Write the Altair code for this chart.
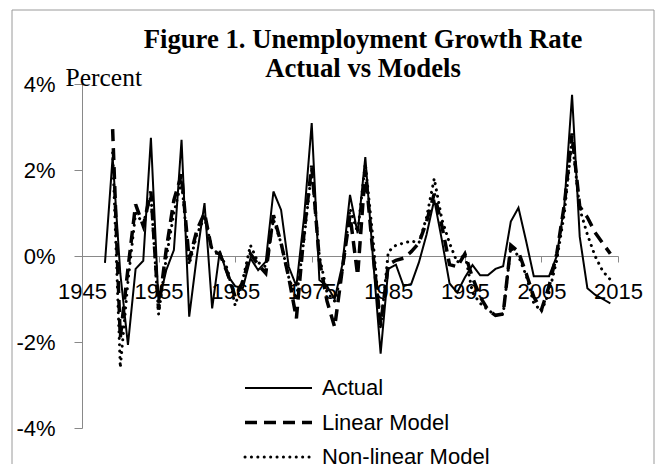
import altair as alt
import pandas as pd

# ---------------- data ----------------
years_actual = list(range(1948, 2015))
actual = [
    -0.16, 2.30, -0.40, -2.07, -0.30, -0.11, 2.75, -1.10, -0.33, 0.14,
    2.70, -1.41, 0.00, 1.23, -1.22, 0.12, -0.45, -0.70, -0.75, -0.05,
    -0.33, -0.13, 1.50, 1.07, -0.25, -0.70, 0.90, 3.09, -0.56, -0.70,
    -1.00, -0.20, 1.42, 0.53, 2.30, -0.05, -2.27, -0.30, -0.20, -0.70,
    -0.65, -0.15, 0.50, 1.31, 0.37, -0.64, -0.85, -0.50, -0.21, -0.45,
    -0.45, -0.30, -0.24, 0.80, 1.12, 0.35, -0.47, -0.47, -0.47, 0.00,
    1.20, 3.75, 0.45, -0.75, -0.90, -1.00, -1.10,
]
years_model = list(range(1949, 2015))
linear = [
    2.95, -1.90, -0.30, 1.20, 0.70, 1.50, -1.25, 0.15, 1.30, 1.90,
    -0.10, 0.60, 1.00, 0.10, 0.05, -0.40, -0.95, -0.60, 0.05, -0.20,
    -0.40, 0.95, 0.30, -0.50, -1.45, 0.55, 2.10, -0.10, -1.05, -1.65,
    -0.30, 0.95, -0.45, 2.00, 0.05, -1.60, -0.20, -0.10, -0.05, 0.10,
    0.30, 0.80, 1.45, 0.70, -0.20, -0.25, 0.05, -0.50, -0.95, -1.25,
    -1.38, -1.35, 0.25, 0.10, -0.40, -0.95, -1.25, -0.70, 0.05, 1.20,
    2.85, 1.15, 0.90, 0.55, 0.30, 0.05,
]
nonlinear = [
    2.40, -2.60, -0.60, 1.00, 0.75, 1.40, -1.35, -0.05, 1.00, 1.75,
    -0.20, 0.50, 0.90, 0.15, 0.05, -0.30, -1.15, -0.55, 0.25, -0.15,
    -0.25, 0.85, 0.30, -0.50, -1.00, 0.40, 2.00, 0.00, -0.85, -1.05,
    -0.35, 1.10, 0.55, 2.15, 0.40, -1.70, 0.10, 0.25, 0.30, 0.35,
    0.30, 0.90, 1.80, 0.85, 0.30, -0.15, 0.05, -0.85, -1.10, -1.25,
    -1.38, -1.35, 0.20, 0.00, -0.45, -1.10, -1.28, -0.85, -0.10, 1.00,
    2.70, 1.10, 0.50, 0.00, -0.35, -0.55,
]
series_names = ["Actual", "Linear Model", "Non-linear Model"]
x_ticks = [1945, 1955, 1965, 1975, 1985, 1995, 2005, 2015]
y_ticks = [-4, -2, 0, 2, 4]
title_lines = ["Figure 1. Unemployment Growth Rate", "Actual vs Models"]

rows = []
for yr, v in zip(years_actual, actual):
    rows.append({"year": yr, "value": v, "series": "Actual"})
for yr, v in zip(years_model, linear):
    rows.append({"year": yr, "value": v, "series": "Linear Model"})
for yr, v in zip(years_model, nonlinear):
    rows.append({"year": yr, "value": v, "series": "Non-linear Model"})
df = pd.DataFrame(rows)
legend_df = pd.DataFrame({"series": series_names, "row": [0, 1, 2]})
one = pd.DataFrame({"a": [0]})

# ---------------- styling ----------------
W, H = 536, 344
AXIS_GRAY = "#898989"
BORDER_GRAY = "#9a9a9a"
SANS = "Liberation Sans"
SERIF = "Liberation Serif"

styles = {
    "Actual": dict(color="black", strokeWidth=2),
    "Linear Model": dict(color="black", strokeWidth=3.5, strokeDash=[12, 7]),
    "Non-linear Model": dict(color="black", strokeWidth=3, strokeDash=[0.1, 6.3],
                             strokeCap="round"),
}

x_enc = alt.X(
    "year:Q",
    scale=alt.Scale(domain=[1945, 2015], nice=False, zero=False),
    axis=alt.Axis(values=x_ticks, format="d", offset=-(H / 2), tickSize=6,
                  labelPadding=19, domainColor=AXIS_GRAY, tickColor=AXIS_GRAY,
                  labelFont=SANS, labelFontSize=22, labelColor="black",
                  grid=False, title=None, labelFlush=False, labelOverlap=False),
)
y_enc = alt.Y(
    "value:Q",
    scale=alt.Scale(domain=[-4, 4], nice=False),
    axis=alt.Axis(values=y_ticks, labelExpr="datum.value + '%'", tickSize=8,
                  labelPadding=19, domainColor=AXIS_GRAY, tickColor=AXIS_GRAY,
                  labelFont=SANS, labelFontSize=22, labelColor="black", grid=False,
                  title="Percent", titleAngle=0, titleX=-17, titleY=1,
                  titleAlign="left", titleBaseline="alphabetic", titleFont=SERIF,
                  titleFontSize=25.5, titleFontWeight="normal", titleColor="black"),
)

lines = []
for name in series_names:
    lines.append(
        alt.Chart(df).transform_filter(alt.datum.series == name)
        .mark_line(**styles[name]).encode(x=x_enc, y=y_enc)
    )
main = alt.layer(*lines)

row_scale = alt.Scale(domain=[0, 2], range=[304, 373])
leg_layers = []
for name in series_names:
    leg_layers.append(
        alt.Chart(legend_df).transform_filter(alt.datum.series == name)
        .mark_rule(**styles[name])
        .encode(x=alt.value(163), x2=alt.value(230),
                y=alt.Y("row:Q", scale=row_scale, axis=None))
    )
leg_layers.append(
    alt.Chart(legend_df).mark_text(align="left", baseline="middle", font=SANS,
                                   fontSize=22, color="black")
    .encode(x=alt.value(240), y=alt.Y("row:Q", scale=row_scale, axis=None),
            text="series:N")
)
legend = alt.layer(*leg_layers)

# chart title (two bold serif lines, centred above the plot)
title = alt.Chart(one).mark_text(
    align="center", baseline="alphabetic", font=SERIF, fontSize=26.7,
    fontWeight="bold", color="black", lineHeight=29
).encode(x=alt.value(281), y=alt.value(-36), text=alt.value(title_lines))

# outer chart border (top, left, right edges)
border_top = alt.Chart(one).mark_rule(color=BORDER_GRAY, strokeWidth=1).encode(
    x=alt.value(-70), x2=alt.value(572), y=alt.value(-74))
border_left = alt.Chart(one).mark_rule(color=BORDER_GRAY, strokeWidth=1).encode(
    x=alt.value(-70), y=alt.value(-74), y2=alt.value(400))
border_right = alt.Chart(one).mark_rule(color=BORDER_GRAY, strokeWidth=1).encode(
    x=alt.value(572), y=alt.value(-74), y2=alt.value(400))

chart = alt.layer(
    main, legend, title, border_top, border_left, border_right
).resolve_scale(y="independent").properties(
    width=W, height=H,
    autosize=alt.AutoSizeParams(type="none"),
    padding={"left": 74, "top": 76, "right": 38, "bottom": 36},
    background="white",
).configure_view(stroke=None)

chart.save("out.html", embed_options={"renderer": "svg", "actions": False})
